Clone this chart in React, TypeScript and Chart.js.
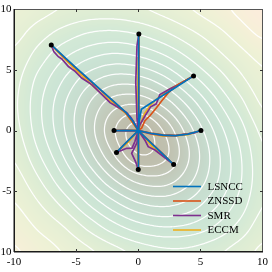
import React, { useEffect, useRef } from "react";
import { Chart, registerables } from "chart.js";
Chart.register(...registerables);

// ---------- data ----------
const seriesNames = ["LSNCC", "ZNSSD", "SMR", "ECCM"];

const endX = [-7, 0.05, 4.45, 5.05, 2.85, 0, -1.75, -1.95];
const endY = [7.05, 7.95, 4.5, 0, -2.8, -3.2, -1.8, 0];

const LSNCC: number[][][] = [
  [[0, 0], [-0.45, 0.8], [-1.0, 1.5], [-2, 2.42], [-3, 3.33], [-4, 4.25], [-5, 5.17], [-6, 6.1], [-7, 7.05]],
  [[0, 0], [0.02, 2], [0.04, 4], [0.03, 6], [0.05, 7.95]],
  [[0, 0], [0.1, 0.9], [0.25, 1.75], [1.0, 2.25], [2, 2.9], [3, 3.55], [4.45, 4.5]],
  [[0, 0], [1, -0.22], [2, -0.38], [3, -0.42], [4, -0.3], [5.05, 0]],
  [[0, 0], [1, -1.0], [2, -1.97], [2.85, -2.8]],
  [[0, 0], [0.03, -1.5], [0, -3.2]],
  [[0, 0], [-0.9, -0.92], [-1.75, -1.8]],
  [[0, 0], [-1, 0.02], [-1.95, 0]],
];
const ZNSSD: number[][][] = [
  [[0, 0], [-0.5, 0.75], [-1.05, 1.5], [-2, 2.4], [-3, 3.3], [-4, 4.2], [-5, 5.12], [-6, 6.05], [-7, 7.05]],
  [[0, 0], [0.05, 2], [0.06, 4], [0.04, 6], [0.05, 7.95]],
  [[0, 0], [0.27, 0.2], [0.54, 0.81], [0.94, 1.22], [1.48, 1.89], [1.88, 2.43], [2.41, 3.1], [3.21, 3.78], [4.45, 4.5]],
  [[0, 0], [1, -0.2], [2, -0.36], [3, -0.4], [4, -0.28], [5.05, 0]],
  [[0, 0], [1, -0.98], [2, -1.95], [2.85, -2.8]],
  [[0, 0], [0.05, -1.6], [0, -3.2]],
  [[0, 0], [-0.88, -0.9], [-1.75, -1.8]],
  [[0, 0], [-1, 0.03], [-1.95, 0]],
];
const SMR: number[][][] = [
  [[0, 0], [-0.3, 0.6], [-0.59, 1.08], [-0.93, 1.48], [-1.6, 1.89], [-2.27, 2.3], [-2.94, 2.97], [-3.74, 3.78], [-4.55, 4.32], [-5.08, 4.87], [-5.62, 5.27], [-6.15, 5.89], [-6.43, 6.08], [-6.8, 6.5], [-7, 7.05]],
  [[0, 0], [-0.1, 1], [-0.15, 2.5], [-0.2, 4], [-0.15, 5.5], [-0.1, 7], [0.05, 7.95]],
  [[0, 0], [0.14, 0.5], [0.6, 1.3], [1.0, 1.95], [1.45, 2.2], [1.74, 2.97], [2.5, 3.4], [3.21, 3.78], [4.45, 4.5]],
  [[0, 0], [1, -0.25], [2, -0.4], [3, -0.43], [3.8, -0.3], [4.5, -0.2], [5.05, 0]],
  [[0, 0], [0.54, -0.79], [0.8, -1.33], [1.34, -1.6], [2.1, -2.2], [2.85, -2.8]],
  [[0, 0], [-0.1, -1], [-0.3, -1.4], [-0.53, -1.87], [-0.2, -2.6], [0, -3.2]],
  [[0, 0], [-0.27, -0.9], [-0.5, -1.45], [-0.93, -1.46], [-1.75, -1.8]],
  [[0, 0], [-1, -0.03], [-1.95, 0]],
];
const ECCM: number[][][] = [
  [[0, 0], [-0.5, 0.72], [-1, 1.42], [-2, 2.25], [-3, 3.08], [-4, 3.98], [-5, 4.95], [-6, 5.98], [-7, 7.05]],
  [[0, 0], [-0.05, 2], [-0.03, 4], [0, 6], [0.05, 7.95]],
  [[0, 0], [0.2, 0.6], [0.5, 1.4], [0.9, 2.0], [1.5, 2.6], [2.5, 3.4], [3.4, 3.9], [4.45, 4.5]],
  [[0, 0], [1, -0.3], [2, -0.46], [3, -0.45], [4, -0.33], [5.05, 0]],
  [[0, 0], [0.6, -0.7], [1.1, -1.3], [2, -2.0], [2.85, -2.8]],
  [[0, 0], [-0.05, -1.5], [0, -3.2]],
  [[0, 0], [-0.8, -0.95], [-1.75, -1.8]],
  [[0, 0], [-1, 0], [-1.95, 0]],
];

// background surface, read on a 2-unit grid (rows y=10..-10, cols x=-10..10)
const gridX = [-10, -8, -6, -4, -2, 0, 2, 4, 6, 8, 10];
const gridY = [10, 8, 6, 4, 2, 0, -2, -4, -6, -8, -10];
const fieldZ = [
  [12.92, 12.4, 11.9, 11.62, 11.6, 11.84, 12.32, 12.9, 13.5, 14.2, 15.0],
  [12.34, 11.46, 10.6, 9.95, 9.76, 10.09, 10.8, 11.68, 12.53, 13.4, 14.2],
  [11.73, 10.48, 9.09, 8.1, 7.61, 7.87, 8.71, 10.0, 11.36, 12.46, 13.25],
  [11.31, 9.61, 7.87, 6.25, 5.3, 5.36, 6.38, 8.05, 9.8, 11.47, 12.64],
  [11.17, 9.24, 7.1, 4.94, 3.27, 2.84, 4.04, 6.03, 8.25, 10.31, 12.04],
  [11.38, 9.41, 7.11, 4.61, 2.17, 0.4, 2.03, 4.46, 6.94, 9.26, 11.26],
  [11.84, 10.09, 7.9, 5.44, 3.06, 1.07, 1.64, 3.87, 6.31, 8.68, 10.79],
  [12.44, 11.06, 9.14, 7.04, 5.01, 3.57, 3.4, 4.61, 6.54, 8.66, 10.67],
  [13.03, 12.04, 10.65, 8.91, 7.3, 6.08, 5.69, 6.25, 7.6, 9.23, 10.93],
  [13.57, 12.88, 12.05, 10.77, 9.49, 8.53, 8.09, 8.28, 9.05, 10.26, 11.52],
  [14.12, 13.52, 12.93, 12.2, 11.4, 10.67, 10.24, 10.24, 10.69, 11.42, 12.2],
];
const contourLevels = [1, 2, 3, 4, 5, 6, 7, 8, 9, 10, 11, 12, 13, 14, 15];

// ---------- styles ----------
const lineColors = ["#0072BD", "#D95319", "#7E2F8E", "#EDB120"];
const cmapZ = [0, 2, 4, 6, 8, 10, 11.5, 13, 14, 15];
const cmapRGB = [
  [188, 184, 166], [192, 193, 176], [196, 208, 194], [199, 221, 207], [203, 228, 213],
  [211, 233, 214], [223, 237, 212], [236, 241, 213], [246, 240, 216], [252, 236, 220],
];
const FONT = "'Liberation Serif', 'Times New Roman', serif";

function cmap(z: number) {
  if (z <= cmapZ[0]) return cmapRGB[0];
  for (let k = 1; k < cmapZ.length; k++) {
    if (z <= cmapZ[k]) {
      const t = (z - cmapZ[k - 1]) / (cmapZ[k] - cmapZ[k - 1]);
      const a = cmapRGB[k - 1], b = cmapRGB[k];
      return [a[0] + (b[0] - a[0]) * t, a[1] + (b[1] - a[1]) * t, a[2] + (b[2] - a[2]) * t];
    }
  }
  return cmapRGB[cmapRGB.length - 1];
}

function catmull(p0: number, p1: number, p2: number, p3: number, t: number) {
  return p1 + 0.5 * t * (p2 - p0 + t * (2 * p0 - 5 * p1 + 4 * p2 - p3 + t * (3 * (p1 - p2) + p3 - p0)));
}
function sampleField(x: number, y: number) {
  const n = gridX.length - 1, m = gridY.length - 1;
  const gx = (x - gridX[0]) / (gridX[1] - gridX[0]);
  const gy = (y - gridY[0]) / (gridY[1] - gridY[0]);
  const ix = Math.max(0, Math.min(n - 1, Math.floor(gx)));
  const iy = Math.max(0, Math.min(m - 1, Math.floor(gy)));
  const tx = gx - ix, ty = gy - iy;
  const g = (r: number, c: number) => fieldZ[Math.max(0, Math.min(m, r))][Math.max(0, Math.min(n, c))];
  const rows: number[] = [];
  for (let k = -1; k <= 2; k++) {
    const r = iy + k;
    rows.push(catmull(g(r, ix - 1), g(r, ix), g(r, ix + 1), g(r, ix + 2), tx));
  }
  return catmull(rows[0], rows[1], rows[2], rows[3], ty);
}

function toPoints(paths: number[][][]) {
  const out: { x: number; y: number }[] = [];
  paths.forEach((p, i) => {
    if (i) out.push({ x: NaN, y: NaN });
    p.forEach(([x, y]) => out.push({ x, y }));
  });
  return out;
}

const fieldPlugin = {
  id: "field",
  beforeDatasetsDraw(chart: any) {
    const { ctx, chartArea, scales } = chart;
    const xs = scales.x, ys = scales.y;
    const L = Math.round(chartArea.left), T = Math.round(chartArea.top);
    const W = Math.round(chartArea.right) - L, H = Math.round(chartArea.bottom) - T;
    const img = ctx.createImageData(W, H);
    for (let j = 0; j < H; j++) {
      const y = ys.getValueForPixel(T + j + 0.5);
      for (let i = 0; i < W; i++) {
        const x = xs.getValueForPixel(L + i + 0.5);
        const c = cmap(sampleField(x, y));
        const o = (j * W + i) * 4;
        img.data[o] = c[0]; img.data[o + 1] = c[1]; img.data[o + 2] = c[2]; img.data[o + 3] = 255;
      }
    }
    ctx.putImageData(img, L, T);

    const step = 2;
    const ni = Math.ceil(W / step), nj = Math.ceil(H / step);
    const px = (i: number) => L + Math.min(i * step, W);
    const py = (j: number) => T + Math.min(j * step, H);
    const zz: number[] = new Array((ni + 1) * (nj + 1));
    for (let j = 0; j <= nj; j++)
      for (let i = 0; i <= ni; i++)
        zz[j * (ni + 1) + i] = sampleField(xs.getValueForPixel(px(i)), ys.getValueForPixel(py(j)));

    ctx.save();
    ctx.beginPath();
    ctx.rect(L, T, W, H);
    ctx.clip();
    ctx.strokeStyle = "rgba(255,255,255,0.95)";
    ctx.lineWidth = 1.25;
    ctx.lineJoin = "round";
    ctx.lineCap = "round";
    for (const lev of contourLevels) {
      ctx.beginPath();
      for (let j = 0; j < nj; j++) {
        for (let i = 0; i < ni; i++) {
          const a = zz[j * (ni + 1) + i], b = zz[j * (ni + 1) + i + 1];
          const c = zz[(j + 1) * (ni + 1) + i + 1], d = zz[(j + 1) * (ni + 1) + i];
          const x0 = px(i), x1 = px(i + 1), y0 = py(j), y1 = py(j + 1);
          const pts: number[][] = [];
          if ((a >= lev) !== (b >= lev)) { const t = (lev - a) / (b - a); pts.push([x0 + (x1 - x0) * t, y0]); }
          if ((b >= lev) !== (c >= lev)) { const t = (lev - b) / (c - b); pts.push([x1, y0 + (y1 - y0) * t]); }
          if ((d >= lev) !== (c >= lev)) { const t = (lev - d) / (c - d); pts.push([x0 + (x1 - x0) * t, y1]); }
          if ((a >= lev) !== (d >= lev)) { const t = (lev - a) / (d - a); pts.push([x0, y0 + (y1 - y0) * t]); }
          if (pts.length === 2) {
            ctx.moveTo(pts[0][0], pts[0][1]); ctx.lineTo(pts[1][0], pts[1][1]);
          } else if (pts.length === 4) {
            ctx.moveTo(pts[0][0], pts[0][1]); ctx.lineTo(pts[1][0], pts[1][1]);
            ctx.moveTo(pts[2][0], pts[2][1]); ctx.lineTo(pts[3][0], pts[3][1]);
          }
        }
      }
      ctx.stroke();
    }
    ctx.restore();
  },
};

const legendPlugin = {
  id: "innerLegend",
  afterDatasetsDraw(chart: any) {
    const { ctx } = chart;
    const items = chart.data.datasets.filter((d: any) => seriesNames.includes(d.label));
    ctx.save();
    ctx.font = `11px ${FONT}`;
    ctx.textBaseline = "middle";
    ctx.textAlign = "left";
    items.forEach((d: any, k: number) => {
      const y = 186.5 + k * 14.5;
      ctx.strokeStyle = d.borderColor;
      ctx.lineWidth = 1.6;
      ctx.beginPath();
      ctx.moveTo(173, y);
      ctx.lineTo(201, y);
      ctx.stroke();
      ctx.fillStyle = "#000";
      ctx.fillText(d.label, 207.5, y + 0.5);
    });
    ctx.restore();
  },
};

const framePlugin = {
  id: "frame",
  afterDraw(chart: any) {
    const { ctx, chartArea, scales } = chart;
    const L = Math.round(chartArea.left), T = Math.round(chartArea.top);
    const R = Math.round(chartArea.right), B = Math.round(chartArea.bottom);
    ctx.save();
    ctx.strokeStyle = "#555";
    ctx.lineWidth = 1;
    ctx.beginPath();
    ctx.moveTo(L, T + 0.5); ctx.lineTo(R, T + 0.5);
    ctx.moveTo(R - 0.5, T); ctx.lineTo(R - 0.5, B);
    ctx.stroke();
    ctx.strokeStyle = "#1a1a1a";
    ctx.lineWidth = 1.5;
    ctx.beginPath();
    ctx.moveTo(L + 0.25, T); ctx.lineTo(L + 0.25, B);
    ctx.moveTo(L, B - 0.25); ctx.lineTo(R, B - 0.25);
    ctx.stroke();
    ctx.lineWidth = 1;
    ctx.strokeStyle = "#333";
    ctx.beginPath();
    scales.x.ticks.forEach((t: any) => {
      if (t.value <= scales.x.min || t.value >= scales.x.max) return;
      const p = Math.round(scales.x.getPixelForValue(t.value)) + 0.5;
      ctx.moveTo(p, B); ctx.lineTo(p, B - 3);
      ctx.moveTo(p, T); ctx.lineTo(p, T + 3);
    });
    scales.y.ticks.forEach((t: any) => {
      if (t.value <= scales.y.min || t.value >= scales.y.max) return;
      const p = Math.round(scales.y.getPixelForValue(t.value)) + 0.5;
      ctx.moveTo(L, p); ctx.lineTo(L + 3, p);
      ctx.moveTo(R, p); ctx.lineTo(R - 3, p);
    });
    ctx.stroke();
    ctx.restore();
  },
};

export default function App() {
  const ref = useRef<HTMLCanvasElement | null>(null);
  useEffect(() => {
    if (!ref.current) return;
    const seriesPaths = [LSNCC, ZNSSD, SMR, ECCM];
    const datasets: any[] = [
      {
        label: "",
        data: endX.map((x, i) => ({ x, y: endY[i] })),
        showLine: false,
        pointRadius: 2.5,
        pointBackgroundColor: "#000",
        pointBorderColor: "#000",
        pointBorderWidth: 0,
      },
      ...seriesNames.map((name, k) => ({
        label: name,
        data: toPoints(seriesPaths[k]),
        showLine: true,
        spanGaps: false,
        borderColor: lineColors[k],
        backgroundColor: lineColors[k],
        borderWidth: 1.7,
        pointRadius: 0,
        tension: 0,
        fill: false,
      })),
    ];
    const chart = new Chart(ref.current, {
      type: "scatter",
      data: { datasets },
      options: {
        animation: false,
        responsive: false,
        maintainAspectRatio: false,
        layout: { padding: { top: 5, right: 9, left: 0, bottom: 0 } },
        plugins: { legend: { display: false }, tooltip: { enabled: false } },
        scales: {
          x: {
            type: "linear",
            min: -10,
            max: 10,
            grid: { display: false, drawTicks: false },
            border: { display: false },
            ticks: { stepSize: 5, padding: 4, color: "#000", font: { family: FONT, size: 11 }, maxRotation: 0 },
            afterFit: (s: any) => { s.height = 20; },
          },
          y: {
            type: "linear",
            min: -10,
            max: 10,
            grid: { display: false, drawTicks: false },
            border: { display: false },
            ticks: { stepSize: 5, padding: 2.5, color: "#000", font: { family: FONT, size: 11 } },
            afterFit: (s: any) => { s.width = 14; },
          },
        },
      } as any,
      plugins: [fieldPlugin, legendPlugin, framePlugin],
    });
    return () => chart.destroy();
  }, []);
  return (
    <div style={{ position: "fixed", left: 0, top: 0, width: 272, height: 272 }}>
      <canvas ref={ref} width={272} height={272} style={{ width: 272, height: 272, display: "block" }} />
    </div>
  );
}
